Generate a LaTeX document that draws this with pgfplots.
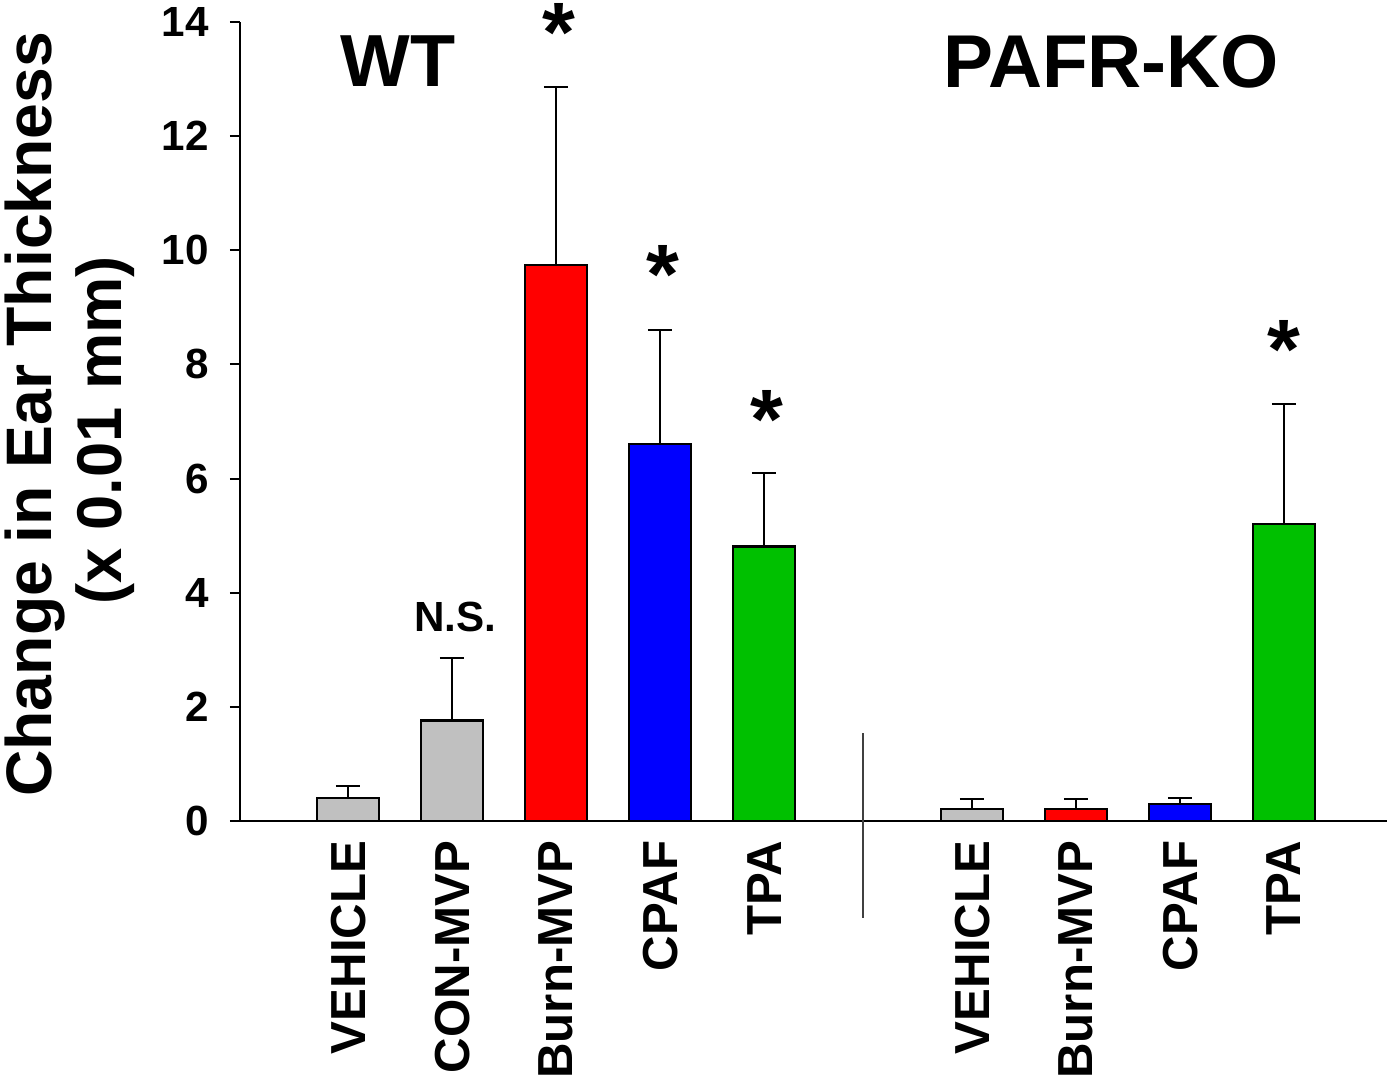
\documentclass[border=0pt]{standalone}
\usepackage{pgfplots}
\pgfplotsset{compat=1.18}
\usepackage{fontspec}
\setmainfont{Liberation Sans}

\definecolor{barGray}{HTML}{C0C0C0}
\definecolor{barRed}{HTML}{FF0000}
\definecolor{barBlue}{HTML}{0000FF}
\definecolor{barGreen}{HTML}{00C000}

\pgfplotsset{
  errbar/.style={
    ybar, bar shift=0pt, bar width=0.6, draw=black, line width=0.6pt,
    error bars/y dir=plus, error bars/y explicit,
    error bars/error bar style={black, line width=0.6pt},
    error bars/error mark options={rotate=90, black, line width=0.6pt, mark size=3.5pt},
  },
}
\tikzset{sigstar/.style={font=\bfseries\fontsize{24}{28}\selectfont, anchor=base}}

\begin{document}
\begin{tikzpicture}
\begin{axis}[
  scale only axis, width=11.47cm, height=7.99cm,
  xmin=-0.04, xmax=10.99, ymin=0, ymax=14,
  axis x line=bottom, axis y line=left,
  axis line style={-, line width=0.6pt},
  ytick={0,2,...,14}, tick align=outside, major tick length=0.1cm,
  ytick style={line width=0.6pt, black},
  xtick={1,2,3,4,5,7,8,9,10},
  xticklabels={VEHICLE,CON-MVP,Burn-MVP,CPAF,TPA,VEHICLE,Burn-MVP,CPAF,TPA},
  xtick style={draw=none},
  xticklabel style={font=\bfseries\fontsize{14}{16}\selectfont, inner sep=0pt,
    yshift=-2.6pt, rotate=90, anchor=east},
  yticklabel style={font=\bfseries\fontsize{12}{14}\selectfont, xshift=-2.5pt,
    /pgf/number format/assume math mode=true},
  clip=false,
]
% gray: WT vehicle, WT CON-MVP, KO vehicle
\addplot[errbar, fill=barGray] table[x=x, y=y, y error=e] {
x  y     e
1  0.41  0.20
2  1.76  1.09
7  0.21  0.17
};
% red: Burn-MVP
\addplot[errbar, fill=barRed] table[x=x, y=y, y error=e] {
x  y     e
3  9.74  3.12
8  0.21  0.18
};
% blue: CPAF
\addplot[errbar, fill=barBlue] table[x=x, y=y, y error=e] {
x  y     e
4  6.61  1.99
9  0.30  0.10
};
% green: TPA
\addplot[errbar, fill=barGreen] table[x=x, y=y, y error=e] {
x  y     e
5   4.81  1.29
10  5.20  2.11
};

\coordinate (BL) at (rel axis cs:0,0);
\coordinate (TR) at (rel axis cs:1,1);

% group divider
\draw[line width=0.5pt, black!75] (axis cs:5.95,1.54) -- (axis cs:5.95,-1.70);

% group titles
\node[font=\bfseries\fontsize{21}{24}\selectfont] at (axis cs:1.48,13.31) {WT};
\node[font=\bfseries\fontsize{21.3}{24}\selectfont] at (axis cs:8.34,13.31) {PAFR-KO};

% significance marks
\node[font=\bfseries\fontsize{12}{14}\selectfont] at (axis cs:2.03,3.57) {N.S.};
\node[sigstar] at (axis cs:3.03,13.30) {*};
\node[sigstar] at (axis cs:4.03,9.06) {*};
\node[sigstar] at (axis cs:5.03,6.52) {*};
\node[sigstar] at (axis cs:10.0,7.75) {*};

% y-axis title
\node[xshift=-2.05cm, rotate=90, font=\bfseries\fontsize{18.3}{21}\selectfont]
  at (rel axis cs:0,0.509) {Change in Ear Thickness};
\node[xshift=-1.35cm, rotate=90, font=\bfseries\fontsize{18}{21}\selectfont]
  at (rel axis cs:0,0.489) {(x 0.01 mm)};
\end{axis}
\pgfresetboundingbox
\path[use as bounding box] ([xshift=-2.40cm,yshift=-2.68cm]BL) rectangle ([xshift=0.01cm,yshift=0.22cm]TR);
\end{tikzpicture}
\end{document}
